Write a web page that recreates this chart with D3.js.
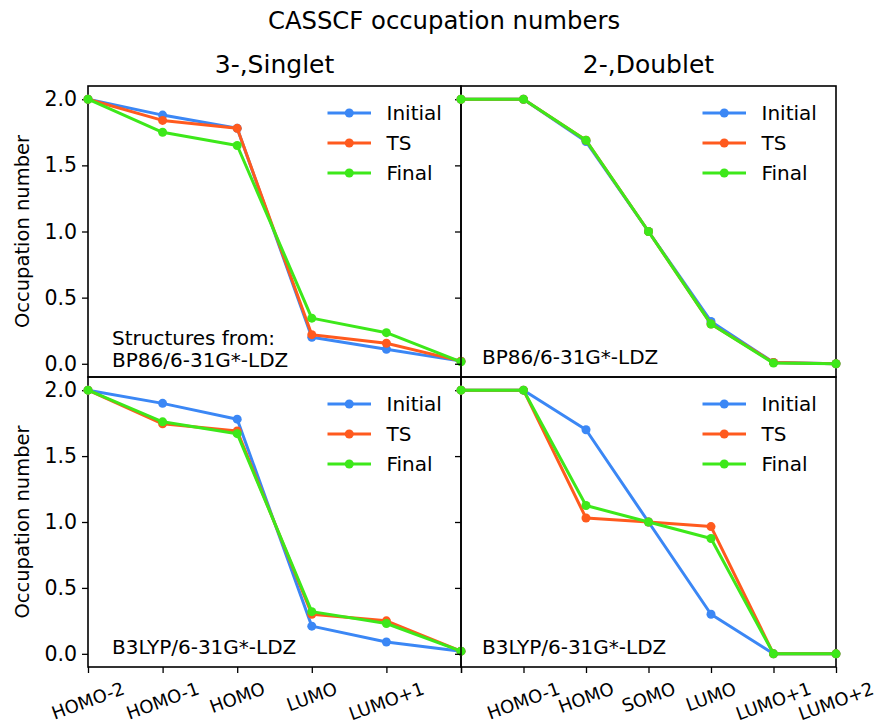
<!DOCTYPE html>
<html><head><meta charset="utf-8">
<script src="https://cdn.jsdelivr.net/npm/d3@7"></script>
<style>body{margin:0;background:#fff}svg{display:block}text{font-family:"DejaVu Sans",sans-serif;fill:#000}</style>
</head><body><svg id="c" width="875" height="722"></svg>
<script>
const seriesNames = ["Initial", "TS", "Final"];
const seriesColors = ["#3b87f5", "#ff5a1e", "#3de81a"];
const singletLabels = ["HOMO-2", "HOMO-1", "HOMO", "LUMO", "LUMO+1", ""];
const doubletLabels = ["", "HOMO-1", "HOMO", "SOMO", "LUMO", "LUMO+1", "LUMO+2"];
const yTicks = [0.0, 0.5, 1.0, 1.5, 2.0];

const bp86SingletInitial = [2.0, 1.88, 1.78, 0.20, 0.11, 0.02];
const bp86SingletTS      = [2.0, 1.84, 1.78, 0.22, 0.155, 0.02];
const bp86SingletFinal   = [2.0, 1.75, 1.65, 0.345, 0.235, 0.015];

const bp86DoubletInitial = [2.0, 2.0, 1.68, 1.0, 0.32, 0.01, 0.0];
const bp86DoubletTS      = [2.0, 2.0, 1.69, 1.0, 0.30, 0.01, 0.0];
const bp86DoubletFinal   = [2.0, 2.0, 1.69, 1.0, 0.30, 0.005, 0.0];

const b3lypSingletInitial = [2.0, 1.90, 1.78, 0.21, 0.09, 0.02];
const b3lypSingletTS      = [2.0, 1.745, 1.69, 0.30, 0.25, 0.02];
const b3lypSingletFinal   = [2.0, 1.76, 1.67, 0.32, 0.23, 0.02];

const b3lypDoubletInitial = [2.0, 2.0, 1.70, 1.0, 0.30, 0.0, 0.0];
const b3lypDoubletTS      = [2.0, 2.0, 1.03, 1.0, 0.965, 0.0, 0.0];
const b3lypDoubletFinal   = [2.0, 2.0, 1.125, 1.0, 0.875, 0.0, 0.0];

const panels = [
  {x0:88, x1:461, y0:86, y1:377, labels:singletLabels, series:[bp86SingletInitial,bp86SingletTS,bp86SingletFinal], note:["Structures from:","BP86/6-31G*-LDZ"], left:true, bottom:false, nx:112},
  {x0:461, x1:836, y0:86, y1:377, labels:doubletLabels, series:[bp86DoubletInitial,bp86DoubletTS,bp86DoubletFinal], note:["BP86/6-31G*-LDZ"], left:false, bottom:false, nx:482},
  {x0:88, x1:461, y0:377, y1:667, labels:singletLabels, series:[b3lypSingletInitial,b3lypSingletTS,b3lypSingletFinal], note:["B3LYP/6-31G*-LDZ"], left:true, bottom:true, nx:112},
  {x0:461, x1:836, y0:377, y1:667, labels:doubletLabels, series:[b3lypDoubletInitial,b3lypDoubletTS,b3lypDoubletFinal], note:["B3LYP/6-31G*-LDZ"], left:false, bottom:true, nx:482}
];

const svg = d3.select("#c");
svg.append("text").attr("x", 444).attr("y", 29).attr("text-anchor","middle").style("font-size","24.3px").text("CASSCF occupation numbers");
svg.append("text").attr("x", 274.5).attr("y", 73).attr("text-anchor","middle").style("font-size","25px").text("3-,Singlet");
svg.append("text").attr("x", 648.5).attr("y", 73).attr("text-anchor","middle").style("font-size","25px").text("2-,Doublet");

panels.forEach(p => {
  const g = svg.append("g");
  const x = d3.scaleLinear().domain([0, p.labels.length-1]).range([p.x0, p.x1]);
  const y = d3.scaleLinear().domain([-0.1, 2.1]).range([p.y1, p.y0]);

  const ya = g.append("g").attr("transform",`translate(${p.x0},0)`)
    .call(d3.axisLeft(y).tickValues(yTicks).tickSize(6).tickPadding(5).tickFormat(d3.format(".1f")));
  ya.select(".domain").remove();
  ya.selectAll("line").attr("stroke","#000").attr("stroke-width",1.3);
  ya.selectAll("text").style("font-size","20.5px").style("font-family","DejaVu Sans");
  if (!p.left) ya.selectAll("text").remove();

  if (p.left) {
    const cy = (p.y0+p.y1)/2;
    g.append("text").attr("transform",`translate(22,${cy}) rotate(-90)`).attr("text-anchor","middle")
      .attr("dominant-baseline","central").style("font-size","19.5px").text("Occupation number");
  }

  if (p.bottom) {
    const xa = g.append("g").attr("transform",`translate(0,${p.y1})`)
      .call(d3.axisBottom(x).tickValues(d3.range(p.labels.length)).tickSize(6).tickFormat(""));
    xa.select(".domain").remove();
    xa.selectAll("line").attr("stroke","#000").attr("stroke-width",1.3);
    p.labels.forEach((lab,i) => {
      if (!lab) return;
      const t = g.append("text").attr("text-anchor","middle").attr("dominant-baseline","central")
        .style("font-size","18px").text(lab);
      const w = t.node().getComputedTextLength();
      const a = 20*Math.PI/180;
      const H = w*Math.sin(a) + 14*Math.cos(a);
      const cy = p.y1 + 14 + H/2;
      t.attr("transform",`translate(${x(i)},${cy}) rotate(-20)`);
    });
  }

  g.append("rect").attr("x",p.x0).attr("y",p.y0).attr("width",p.x1-p.x0).attr("height",p.y1-p.y0)
    .attr("fill","none").attr("stroke","#000").attr("stroke-width",1.6);

  const line = d3.line().x((d,i)=>x(i)).y(d=>y(d));
  p.series.forEach((s,k) => {
    g.append("path").datum(s).attr("d",line).attr("fill","none").attr("stroke",seriesColors[k])
      .attr("stroke-width",3).attr("stroke-linejoin","round");
    g.selectAll(null).data(s).enter().append("circle").attr("cx",(d,i)=>x(i)).attr("cy",d=>y(d))
      .attr("r",4.5).attr("fill",seriesColors[k]);
  });

  seriesNames.forEach((n,k) => {
    const ry = p.y0 + 27 + 30*k;
    g.append("line").attr("x1",p.x1-133.5).attr("x2",p.x1-90).attr("y1",ry).attr("y2",ry)
      .attr("stroke",seriesColors[k]).attr("stroke-width",3);
    g.append("circle").attr("cx",p.x1-111.75).attr("cy",ry).attr("r",4.5).attr("fill",seriesColors[k]);
    g.append("text").attr("x",p.x1-74.5).attr("y",ry).attr("dominant-baseline","central")
      .style("font-size","20px").text(n);
  });

  const base = p.note.length === 2 ? 345 : p.y1 - 13.5;
  p.note.forEach((t,j) => {
    g.append("text").attr("x",p.nx).attr("y",base + 21.5*j).style("font-size","20px").text(t);
  });
});
</script></body></html>
